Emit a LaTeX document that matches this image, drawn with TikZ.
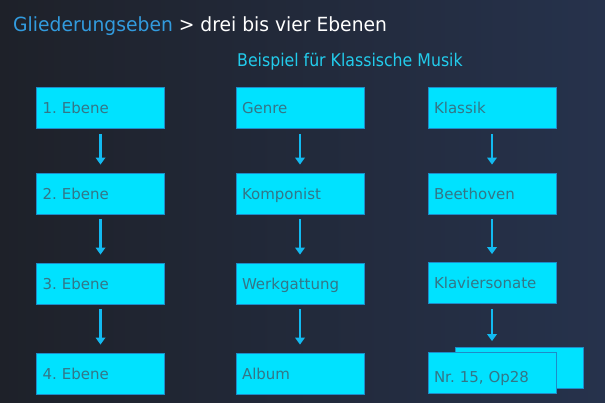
\documentclass[tikz,border=0pt]{standalone}
\usepackage{fontspec}
\setmainfont{DejaVu Sans}
\newfontfamily\titlefont[FakeStretch=0.96]{DejaVu Sans}
\newfontfamily\subfont[FakeStretch=0.9]{DejaVu Sans}
\usetikzlibrary{arrows.meta}
\definecolor{bgleft}{RGB}{30,33,41}
\definecolor{bgright}{RGB}{38,50,76}
\definecolor{titleblue}{RGB}{50,155,222}
\definecolor{subcyan}{RGB}{34,204,236}
\definecolor{boxfill}{RGB}{0,226,255}
\definecolor{boxline}{RGB}{30,140,200}
\definecolor{boxtext}{RGB}{52,118,135}
\definecolor{arrowcol}{RGB}{18,186,240}
\frenchspacing
\begin{document}
\begin{tikzpicture}[x=1pt,y=-1pt,
  levelbox/.style={draw=boxline, line width=0.8pt, fill=boxfill, minimum width=128pt, minimum height=41pt,
    inner xsep=6pt, text width=116pt, text height=13pt, text depth=1pt, align=left,
    font=\fontsize{15}{18}\selectfont, text=boxtext, anchor=center},
  flow/.style={draw=arrowcol, line width=2.5pt, -{Triangle[width=9.5pt,length=7pt]}, shorten <=5pt, shorten >=8pt}]
\useasboundingbox (0,0) rectangle (605,403);
\shade[left color=bgleft, right color=bgright] (0,0) rectangle (605,403);
\node[anchor=base west, inner sep=0pt, font=\titlefont\fontsize{19.5}{22}\selectfont] (title) at (13,32)
  {\textcolor{titleblue}{Gliederungseben} \textcolor{white}{> drei bis vier Ebenen}};
\node[anchor=base west, inner sep=0pt, text=subcyan, font=\subfont\fontsize{17.5}{20}\selectfont] (sub) at (237,67)
  {Beispiel für Klassische Musik};
% column 1
\node[levelbox] (a1) at (100.5,108) {1. Ebene};
\node[levelbox] (a2) at (100.5,193.5) {2. Ebene};
\node[levelbox] (a3) at (100.5,283.5) {3. Ebene};
\node[levelbox] (a4) at (100.5,373.5) {4. Ebene};
% column 2
\node[levelbox] (b1) at (300,108) {Genre};
\node[levelbox] (b2) at (300,193.5) {Komponist};
\node[levelbox] (b3) at (300,283.5) {Werkgattung};
\node[levelbox] (b4) at (300,373.5) {Album};
% column 3
\node[levelbox] (c1) at (492,108) {Klassik};
\node[levelbox] (c2) at (492,193.5) {Beethoven};
\node[levelbox] (c3) at (492,283) {Klaviersonate};
\node[levelbox] (c4back) at (519,367.5) {};
\node[levelbox, text height=19pt, text depth=0pt] (c4) at (492,373) {Nr. 15, Op28};
% arrows
\draw[flow] (a1.south) -- (a2.north);
\draw[flow] (a2.south) -- (a3.north);
\draw[flow] (a3.south) -- (a4.north);
\draw[flow] (b1.south) -- (b2.north);
\draw[flow] (b2.south) -- (b3.north);
\draw[flow] (b3.south) -- (b4.north);
\draw[flow] (c1.south) -- (c2.north);
\draw[flow] (c2.south) -- (c3.north);
\draw[flow, shorten >=11pt] (c3.south) -- (c4.north);
\end{tikzpicture}
\end{document}
